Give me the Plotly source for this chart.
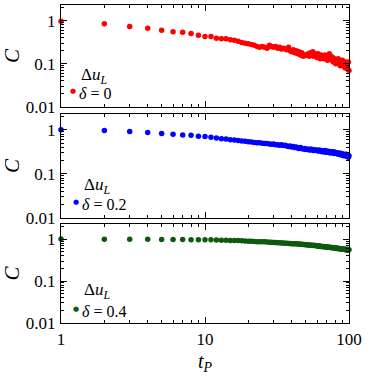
import plotly.graph_objects as go

# time axis t_P = 1 .. 100
t_p = list(range(1, 101))

# correlation C for the three delta values
c_delta0 = [
    0.96, 0.84, 0.73, 0.66, 0.60, 0.55, 0.54, 0.50, 0.46, 0.43,
    0.43, 0.39, 0.38, 0.38, 0.36, 0.35, 0.33, 0.31, 0.30, 0.29,
    0.28, 0.27, 0.25, 0.24, 0.25, 0.24, 0.23, 0.27, 0.25, 0.24,
    0.25, 0.23, 0.24, 0.22, 0.23, 0.22, 0.21, 0.24, 0.20, 0.19,
    0.21, 0.18, 0.20, 0.17, 0.19, 0.16, 0.18, 0.15, 0.16, 0.155,
    0.16, 0.17, 0.15, 0.18, 0.16, 0.19, 0.15, 0.17, 0.16, 0.14,
    0.17, 0.15, 0.13, 0.16, 0.14, 0.15, 0.13, 0.16, 0.14, 0.15,
    0.12, 0.14, 0.17, 0.13, 0.15, 0.12, 0.14, 0.11, 0.13, 0.12,
    0.10, 0.12, 0.11, 0.13, 0.10, 0.12, 0.09, 0.11, 0.10, 0.12,
    0.09, 0.11, 0.10, 0.08, 0.11, 0.09, 0.10, 0.075, 0.11, 0.07,
]
c_delta02 = [
    1.00, 0.97, 0.92, 0.87, 0.83, 0.80, 0.76, 0.75, 0.72, 0.71,
    0.68, 0.65, 0.63, 0.62, 0.60, 0.59, 0.57, 0.56, 0.55, 0.54,
    0.53, 0.52, 0.51, 0.51, 0.50, 0.49, 0.49, 0.48, 0.47, 0.48,
    0.46, 0.46, 0.45, 0.46, 0.44, 0.45, 0.43, 0.42, 0.43, 0.41,
    0.42, 0.40, 0.41, 0.39, 0.38, 0.40, 0.38, 0.37, 0.38, 0.36,
    0.37, 0.36, 0.35, 0.37, 0.35, 0.36, 0.34, 0.35, 0.35, 0.34,
    0.33, 0.35, 0.33, 0.34, 0.32, 0.33, 0.32, 0.34, 0.31, 0.32,
    0.33, 0.31, 0.32, 0.30, 0.32, 0.31, 0.30, 0.32, 0.29, 0.31,
    0.30, 0.29, 0.30, 0.28, 0.29, 0.30, 0.28, 0.27, 0.29, 0.28,
    0.27, 0.26, 0.28, 0.27, 0.26, 0.28, 0.25, 0.27, 0.24, 0.26,
]
c_delta04 = [
    1.00, 0.99, 0.99, 0.99, 0.98, 0.98, 0.98, 0.97, 0.97, 0.96,
    0.96, 0.95, 0.94, 0.94, 0.93, 0.92, 0.92, 0.91, 0.90, 0.89,
    0.89, 0.88, 0.87, 0.87, 0.86, 0.86, 0.85, 0.84, 0.84, 0.83,
    0.83, 0.82, 0.82, 0.81, 0.81, 0.80, 0.80, 0.79, 0.79, 0.78,
    0.78, 0.77, 0.77, 0.76, 0.76, 0.75, 0.75, 0.74, 0.74, 0.73,
    0.73, 0.72, 0.72, 0.71, 0.71, 0.70, 0.71, 0.70, 0.69, 0.69,
    0.68, 0.69, 0.68, 0.67, 0.67, 0.66, 0.67, 0.66, 0.65, 0.65,
    0.64, 0.65, 0.64, 0.63, 0.63, 0.62, 0.63, 0.62, 0.61, 0.62,
    0.61, 0.60, 0.61, 0.60, 0.59, 0.60, 0.59, 0.58, 0.59, 0.58,
    0.57, 0.58, 0.57, 0.56, 0.57, 0.56, 0.55, 0.57, 0.55, 0.56,
]

series = [c_delta0, c_delta02, c_delta04]
deltas = ["0", "0.2", "0.4"]
colors = ["#ff0000", "#0000ff", "#0d5a0d"]

x_ticks = [1, 10, 100]
x_ticklabels = ["1", "10", "100"]
y_ticks = [0.01, 0.1, 1]
y_ticklabels = ["0.01", "0.1", "1"]

font = "Liberation Serif, Times New Roman, serif"

# plot area in pixels (top, bottom) of each panel
W, H = 374, 378
L, R, T, B = 61, 25, 5, 55
panels_px = [(5, 107), (114, 218), (224, 323)]
ph = H - T - B


def ypaper(py):
    return (H - B - py) / ph


def xpaper(px):
    return (px - L) / (W - L - R)


x_minor = [2, 3, 4, 5, 6, 7, 8, 9, 20, 30, 40, 50, 60, 70, 80, 90]
y_minor = [0.02, 0.03, 0.04, 0.05, 0.06, 0.07, 0.08, 0.09,
           0.2, 0.3, 0.4, 0.5, 0.6, 0.7, 0.8, 0.9, 2]

fig = go.Figure()
layout = {}
for i, (yy, col) in enumerate(zip(series, colors)):
    n = "" if i == 0 else str(i + 1)
    fig.add_trace(go.Scatter(
        x=t_p, y=yy, mode="markers",
        marker=dict(color=col, size=5.5, line=dict(width=0)),
        xaxis="x" + n, yaxis="y" + n, cliponaxis=False, showlegend=False,
    ))
    top, bot = panels_px[i]
    common = dict(
        type="log", showline=True, linecolor="black", linewidth=1.3,
        mirror="allticks", ticks="inside", ticklen=6, tickwidth=1,
        tickcolor="black", showgrid=False, zeroline=False, automargin=False,
        tickfont=dict(family=font, size=17, color="black"),
    )
    minor = dict(ticks="inside", ticklen=3, tickwidth=1, tickcolor="black",
                 tickmode="array", showgrid=False)
    xa = dict(common, range=[0, 2], domain=[0, 1], anchor="y" + n,
              tickmode="array", tickvals=x_ticks, ticktext=x_ticklabels,
              showticklabels=(i == 2), minor=dict(minor, tickvals=x_minor))
    if i == 2:
        xa["title"] = dict(text="<i>t<sub>P</sub></i>",
                           font=dict(family=font, size=20, color="black"),
                           standoff=6)
    else:
        xa["matches"] = "x3"
    ya = dict(common, range=[-2, 0.36], domain=[ypaper(bot), ypaper(top)],
              anchor="x" + n, tickmode="array", tickvals=y_ticks,
              ticktext=y_ticklabels, ticklabelstandoff=1,
              minor=dict(minor, tickvals=y_minor),
              title=dict(text="<i>C</i>", standoff=10,
                         font=dict(family=font, size=21, color="black")))
    layout["xaxis" + n] = xa
    layout["yaxis" + n] = ya

fig.update_layout(**layout)

# legend-like labels in each panel
ann = []
legend_px = [(73, 76, 91), (76, 186, 202), (76, 291, 309)]
for (bx, ty, by), d, col in zip(legend_px, deltas, colors):
    ann.append(dict(x=xpaper(bx + 6), y=ypaper(ty), xref="paper", yref="paper",
                    text="Δ<i>u<sub>L</sub></i>", showarrow=False,
                    xanchor="left", yanchor="middle",
                    font=dict(family=font, size=17, color="black")))
    ann.append(dict(x=xpaper(bx), y=ypaper(by), xref="paper", yref="paper",
                    text="●", showarrow=False, xanchor="center", yanchor="middle",
                    font=dict(family="DejaVu Sans", size=7, color=col)))
    ann.append(dict(x=xpaper(bx + 4), y=ypaper(by + 2), xref="paper", yref="paper",
                    text="<i>δ</i> = " + d, showarrow=False,
                    xanchor="left", yanchor="middle",
                    font=dict(family=font, size=16, color="black")))

fig.update_layout(
    annotations=ann,
    width=W, height=H,
    margin=dict(l=L, r=R, t=T, b=B),
    paper_bgcolor="white", plot_bgcolor="white",
    showlegend=False,
)

# drop the page's default body margin so the figure sits at the corner
fig.write_html("out.html", config={"displayModeBar": False},
               post_script="document.body.style.margin='0';")
